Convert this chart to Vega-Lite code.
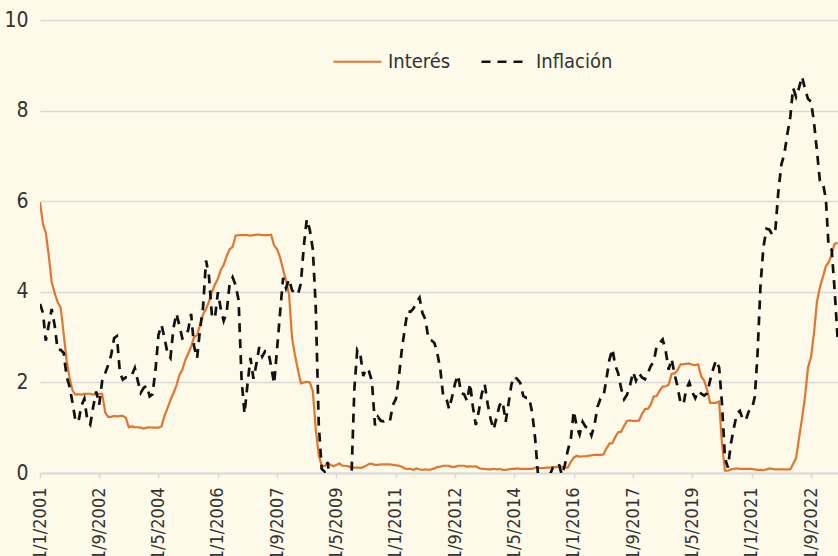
{
  "$schema": "https://vega.github.io/schema/vega-lite/v6.json",
  "width": 798,
  "height": 453,
  "autosize": {"type": "none"},
  "padding": {"left": 40, "top": 20, "right": 0, "bottom": 83},
  "background": "#FDFAE9",
  "config": {
    "view": {"stroke": null},
    "font": "DejaVu Sans Condensed, Liberation Sans Narrow, sans-serif",
    "legend": {
      "orient": "none",
      "legendX": 292,
      "legendY": 16,
      "direction": "horizontal",
      "title": null,
      "symbolType": "stroke",
      "symbolSize": 2304,
      "symbolStrokeWidth": 2.5,
      "labelFontSize": 20,
      "labelColor": "#333333",
      "labelOffset": 5,
      "columnPadding": 25,
      "labelFont": "DejaVu Sans Condensed, Liberation Sans Narrow, sans-serif"
    }
  },
  "data": {
    "values": [
      {"fecha":"2001-01-01","Interés":5.98,"Inflación":3.73},
      {"fecha":"2001-02-01","Interés":5.49,"Inflación":3.53},
      {"fecha":"2001-03-01","Interés":5.31,"Inflación":2.92},
      {"fecha":"2001-04-01","Interés":4.80,"Inflación":3.27},
      {"fecha":"2001-05-01","Interés":4.21,"Inflación":3.62},
      {"fecha":"2001-06-01","Interés":3.97,"Inflación":3.25},
      {"fecha":"2001-07-01","Interés":3.77,"Inflación":2.72},
      {"fecha":"2001-08-01","Interés":3.65,"Inflación":2.72},
      {"fecha":"2001-09-01","Interés":3.07,"Inflación":2.65},
      {"fecha":"2001-10-01","Interés":2.49,"Inflación":2.13},
      {"fecha":"2001-11-01","Interés":2.09,"Inflación":1.90},
      {"fecha":"2001-12-01","Interés":1.82,"Inflación":1.55},
      {"fecha":"2002-01-01","Interés":1.73,"Inflación":1.14},
      {"fecha":"2002-02-01","Interés":1.74,"Inflación":1.14},
      {"fecha":"2002-03-01","Interés":1.73,"Inflación":1.48},
      {"fecha":"2002-04-01","Interés":1.75,"Inflación":1.64},
      {"fecha":"2002-05-01","Interés":1.75,"Inflación":1.18},
      {"fecha":"2002-06-01","Interés":1.75,"Inflación":1.07},
      {"fecha":"2002-07-01","Interés":1.73,"Inflación":1.46},
      {"fecha":"2002-08-01","Interés":1.74,"Inflación":1.80},
      {"fecha":"2002-09-01","Interés":1.75,"Inflación":1.51},
      {"fecha":"2002-10-01","Interés":1.75,"Inflación":2.03},
      {"fecha":"2002-11-01","Interés":1.34,"Inflación":2.20},
      {"fecha":"2002-12-01","Interés":1.24,"Inflación":2.38},
      {"fecha":"2003-01-01","Interés":1.24,"Inflación":2.60},
      {"fecha":"2003-02-01","Interés":1.26,"Inflación":2.98},
      {"fecha":"2003-03-01","Interés":1.25,"Inflación":3.02},
      {"fecha":"2003-04-01","Interés":1.26,"Inflación":2.22},
      {"fecha":"2003-05-01","Interés":1.26,"Inflación":2.06},
      {"fecha":"2003-06-01","Interés":1.22,"Inflación":2.11},
      {"fecha":"2003-07-01","Interés":1.01,"Inflación":2.11},
      {"fecha":"2003-08-01","Interés":1.03,"Inflación":2.16},
      {"fecha":"2003-09-01","Interés":1.01,"Inflación":2.32},
      {"fecha":"2003-10-01","Interés":1.01,"Inflación":2.04},
      {"fecha":"2003-11-01","Interés":1.00,"Inflación":1.77},
      {"fecha":"2003-12-01","Interés":0.98,"Inflación":1.88},
      {"fecha":"2004-01-01","Interés":1.00,"Inflación":1.93},
      {"fecha":"2004-02-01","Interés":1.01,"Inflación":1.69},
      {"fecha":"2004-03-01","Interés":1.00,"Inflación":1.74},
      {"fecha":"2004-04-01","Interés":1.00,"Inflación":2.29},
      {"fecha":"2004-05-01","Interés":1.00,"Inflación":3.05},
      {"fecha":"2004-06-01","Interés":1.03,"Inflación":3.27},
      {"fecha":"2004-07-01","Interés":1.26,"Inflación":2.99},
      {"fecha":"2004-08-01","Interés":1.43,"Inflación":2.65},
      {"fecha":"2004-09-01","Interés":1.61,"Inflación":2.54},
      {"fecha":"2004-10-01","Interés":1.76,"Inflación":3.19},
      {"fecha":"2004-11-01","Interés":1.93,"Inflación":3.52},
      {"fecha":"2004-12-01","Interés":2.16,"Inflación":3.26},
      {"fecha":"2005-01-01","Interés":2.28,"Inflación":2.97},
      {"fecha":"2005-02-01","Interés":2.50,"Inflación":3.01},
      {"fecha":"2005-03-01","Interés":2.63,"Inflación":3.15},
      {"fecha":"2005-04-01","Interés":2.79,"Inflación":3.51},
      {"fecha":"2005-05-01","Interés":3.00,"Inflación":2.80},
      {"fecha":"2005-06-01","Interés":3.04,"Inflación":2.53},
      {"fecha":"2005-07-01","Interés":3.26,"Inflación":3.17},
      {"fecha":"2005-08-01","Interés":3.50,"Inflación":3.64},
      {"fecha":"2005-09-01","Interés":3.62,"Inflación":4.69},
      {"fecha":"2005-10-01","Interés":3.78,"Inflación":4.35},
      {"fecha":"2005-11-01","Interés":4.00,"Inflación":3.46},
      {"fecha":"2005-12-01","Interés":4.16,"Inflación":3.42},
      {"fecha":"2006-01-01","Interés":4.29,"Inflación":3.99},
      {"fecha":"2006-02-01","Interés":4.49,"Inflación":3.60},
      {"fecha":"2006-03-01","Interés":4.59,"Inflación":3.36},
      {"fecha":"2006-04-01","Interés":4.79,"Inflación":3.55},
      {"fecha":"2006-05-01","Interés":4.94,"Inflación":4.17},
      {"fecha":"2006-06-01","Interés":4.99,"Inflación":4.32},
      {"fecha":"2006-07-01","Interés":5.24,"Inflación":4.15},
      {"fecha":"2006-08-01","Interés":5.25,"Inflación":3.82},
      {"fecha":"2006-09-01","Interés":5.25,"Inflación":2.06},
      {"fecha":"2006-10-01","Interés":5.25,"Inflación":1.31},
      {"fecha":"2006-11-01","Interés":5.25,"Inflación":1.97},
      {"fecha":"2006-12-01","Interés":5.24,"Inflación":2.54},
      {"fecha":"2007-01-01","Interés":5.25,"Inflación":2.08},
      {"fecha":"2007-02-01","Interés":5.26,"Inflación":2.42},
      {"fecha":"2007-03-01","Interés":5.26,"Inflación":2.78},
      {"fecha":"2007-04-01","Interés":5.25,"Inflación":2.57},
      {"fecha":"2007-05-01","Interés":5.25,"Inflación":2.69},
      {"fecha":"2007-06-01","Interés":5.25,"Inflación":2.69},
      {"fecha":"2007-07-01","Interés":5.26,"Inflación":2.36},
      {"fecha":"2007-08-01","Interés":5.02,"Inflación":1.97},
      {"fecha":"2007-09-01","Interés":4.94,"Inflación":2.76},
      {"fecha":"2007-10-01","Interés":4.76,"Inflación":3.54},
      {"fecha":"2007-11-01","Interés":4.49,"Inflación":4.31},
      {"fecha":"2007-12-01","Interés":4.24,"Inflación":4.08},
      {"fecha":"2008-01-01","Interés":3.94,"Inflación":4.28},
      {"fecha":"2008-02-01","Interés":2.98,"Inflación":4.03},
      {"fecha":"2008-03-01","Interés":2.61,"Inflación":3.98},
      {"fecha":"2008-04-01","Interés":2.28,"Inflación":3.94},
      {"fecha":"2008-05-01","Interés":1.98,"Inflación":4.18},
      {"fecha":"2008-06-01","Interés":2.00,"Inflación":5.02},
      {"fecha":"2008-07-01","Interés":2.01,"Inflación":5.60},
      {"fecha":"2008-08-01","Interés":2.00,"Inflación":5.37},
      {"fecha":"2008-09-01","Interés":1.81,"Inflación":4.94},
      {"fecha":"2008-10-01","Interés":0.97,"Inflación":3.66},
      {"fecha":"2008-11-01","Interés":0.39,"Inflación":1.07},
      {"fecha":"2008-12-01","Interés":0.16,"Inflación":0.09},
      {"fecha":"2009-01-01","Interés":0.15,"Inflación":0.03},
      {"fecha":"2009-02-01","Interés":0.22,"Inflación":0.24},
      {"fecha":"2009-03-01","Interés":0.18,"Inflación":-0.38},
      {"fecha":"2009-04-01","Interés":0.15,"Inflación":-0.74},
      {"fecha":"2009-05-01","Interés":0.18,"Inflación":-1.28},
      {"fecha":"2009-06-01","Interés":0.21,"Inflación":-1.43},
      {"fecha":"2009-07-01","Interés":0.16,"Inflación":-2.10},
      {"fecha":"2009-08-01","Interés":0.16,"Inflación":-1.48},
      {"fecha":"2009-09-01","Interés":0.15,"Inflación":-1.29},
      {"fecha":"2009-10-01","Interés":0.12,"Inflación":-0.18},
      {"fecha":"2009-11-01","Interés":0.12,"Inflación":1.84},
      {"fecha":"2009-12-01","Interés":0.12,"Inflación":2.72},
      {"fecha":"2010-01-01","Interés":0.11,"Inflación":2.63},
      {"fecha":"2010-02-01","Interés":0.13,"Inflación":2.14},
      {"fecha":"2010-03-01","Interés":0.16,"Inflación":2.31},
      {"fecha":"2010-04-01","Interés":0.20,"Inflación":2.24},
      {"fecha":"2010-05-01","Interés":0.20,"Inflación":2.02},
      {"fecha":"2010-06-01","Interés":0.18,"Inflación":1.05},
      {"fecha":"2010-07-01","Interés":0.18,"Inflación":1.24},
      {"fecha":"2010-08-01","Interés":0.19,"Inflación":1.15},
      {"fecha":"2010-09-01","Interés":0.19,"Inflación":1.14},
      {"fecha":"2010-10-01","Interés":0.19,"Inflación":1.17},
      {"fecha":"2010-11-01","Interés":0.19,"Inflación":1.14},
      {"fecha":"2010-12-01","Interés":0.18,"Inflación":1.50},
      {"fecha":"2011-01-01","Interés":0.17,"Inflación":1.63},
      {"fecha":"2011-02-01","Interés":0.16,"Inflación":2.11},
      {"fecha":"2011-03-01","Interés":0.14,"Inflación":2.68},
      {"fecha":"2011-04-01","Interés":0.10,"Inflación":3.16},
      {"fecha":"2011-05-01","Interés":0.09,"Inflación":3.57},
      {"fecha":"2011-06-01","Interés":0.09,"Inflación":3.56},
      {"fecha":"2011-07-01","Interés":0.07,"Inflación":3.63},
      {"fecha":"2011-08-01","Interés":0.10,"Inflación":3.77},
      {"fecha":"2011-09-01","Interés":0.08,"Inflación":3.87},
      {"fecha":"2011-10-01","Interés":0.07,"Inflación":3.53},
      {"fecha":"2011-11-01","Interés":0.08,"Inflación":3.39},
      {"fecha":"2011-12-01","Interés":0.07,"Inflación":2.96},
      {"fecha":"2012-01-01","Interés":0.08,"Inflación":2.93},
      {"fecha":"2012-02-01","Interés":0.10,"Inflación":2.87},
      {"fecha":"2012-03-01","Interés":0.13,"Inflación":2.65},
      {"fecha":"2012-04-01","Interés":0.14,"Inflación":2.30},
      {"fecha":"2012-05-01","Interés":0.16,"Inflación":1.70},
      {"fecha":"2012-06-01","Interés":0.16,"Inflación":1.66},
      {"fecha":"2012-07-01","Interés":0.16,"Inflación":1.41},
      {"fecha":"2012-08-01","Interés":0.13,"Inflación":1.69},
      {"fecha":"2012-09-01","Interés":0.14,"Inflación":1.99},
      {"fecha":"2012-10-01","Interés":0.16,"Inflación":2.16},
      {"fecha":"2012-11-01","Interés":0.16,"Inflación":1.76},
      {"fecha":"2012-12-01","Interés":0.16,"Inflación":1.74},
      {"fecha":"2013-01-01","Interés":0.14,"Inflación":1.59},
      {"fecha":"2013-02-01","Interés":0.15,"Inflación":1.98},
      {"fecha":"2013-03-01","Interés":0.14,"Inflación":1.47},
      {"fecha":"2013-04-01","Interés":0.15,"Inflación":1.06},
      {"fecha":"2013-05-01","Interés":0.11,"Inflación":1.36},
      {"fecha":"2013-06-01","Interés":0.09,"Inflación":1.75},
      {"fecha":"2013-07-01","Interés":0.09,"Inflación":1.96},
      {"fecha":"2013-08-01","Interés":0.08,"Inflación":1.52},
      {"fecha":"2013-09-01","Interés":0.08,"Inflación":1.18},
      {"fecha":"2013-10-01","Interés":0.09,"Inflación":0.96},
      {"fecha":"2013-11-01","Interés":0.08,"Inflación":1.24},
      {"fecha":"2013-12-01","Interés":0.09,"Inflación":1.50},
      {"fecha":"2014-01-01","Interés":0.07,"Inflación":1.58},
      {"fecha":"2014-02-01","Interés":0.07,"Inflación":1.13},
      {"fecha":"2014-03-01","Interés":0.08,"Inflación":1.51},
      {"fecha":"2014-04-01","Interés":0.09,"Inflación":1.95},
      {"fecha":"2014-05-01","Interés":0.09,"Inflación":2.13},
      {"fecha":"2014-06-01","Interés":0.10,"Inflación":2.07},
      {"fecha":"2014-07-01","Interés":0.09,"Inflación":1.99},
      {"fecha":"2014-08-01","Interés":0.09,"Inflación":1.70},
      {"fecha":"2014-09-01","Interés":0.09,"Inflación":1.66},
      {"fecha":"2014-10-01","Interés":0.09,"Inflación":1.66},
      {"fecha":"2014-11-01","Interés":0.09,"Inflación":1.32},
      {"fecha":"2014-12-01","Interés":0.12,"Inflación":0.76},
      {"fecha":"2015-01-01","Interés":0.11,"Inflación":-0.09},
      {"fecha":"2015-02-01","Interés":0.11,"Inflación":-0.03},
      {"fecha":"2015-03-01","Interés":0.11,"Inflación":-0.07},
      {"fecha":"2015-04-01","Interés":0.12,"Inflación":-0.20},
      {"fecha":"2015-05-01","Interés":0.12,"Inflación":-0.04},
      {"fecha":"2015-06-01","Interés":0.13,"Inflación":0.12},
      {"fecha":"2015-07-01","Interés":0.13,"Inflación":0.17},
      {"fecha":"2015-08-01","Interés":0.14,"Inflación":0.20},
      {"fecha":"2015-09-01","Interés":0.14,"Inflación":-0.04},
      {"fecha":"2015-10-01","Interés":0.12,"Inflación":0.17},
      {"fecha":"2015-11-01","Interés":0.12,"Inflación":0.50},
      {"fecha":"2015-12-01","Interés":0.24,"Inflación":0.73},
      {"fecha":"2016-01-01","Interés":0.34,"Inflación":1.37},
      {"fecha":"2016-02-01","Interés":0.38,"Inflación":1.02},
      {"fecha":"2016-03-01","Interés":0.36,"Inflación":0.85},
      {"fecha":"2016-04-01","Interés":0.37,"Inflación":1.13},
      {"fecha":"2016-05-01","Interés":0.37,"Inflación":1.02},
      {"fecha":"2016-06-01","Interés":0.38,"Inflación":1.01},
      {"fecha":"2016-07-01","Interés":0.39,"Inflación":0.83},
      {"fecha":"2016-08-01","Interés":0.40,"Inflación":1.06},
      {"fecha":"2016-09-01","Interés":0.40,"Inflación":1.46},
      {"fecha":"2016-10-01","Interés":0.40,"Inflación":1.64},
      {"fecha":"2016-11-01","Interés":0.41,"Inflación":1.69},
      {"fecha":"2016-12-01","Interés":0.54,"Inflación":2.07},
      {"fecha":"2017-01-01","Interés":0.65,"Inflación":2.50},
      {"fecha":"2017-02-01","Interés":0.66,"Inflación":2.74},
      {"fecha":"2017-03-01","Interés":0.79,"Inflación":2.38},
      {"fecha":"2017-04-01","Interés":0.90,"Inflación":2.20},
      {"fecha":"2017-05-01","Interés":0.91,"Inflación":1.87},
      {"fecha":"2017-06-01","Interés":1.04,"Inflación":1.63},
      {"fecha":"2017-07-01","Interés":1.15,"Inflación":1.73},
      {"fecha":"2017-08-01","Interés":1.16,"Inflación":1.94},
      {"fecha":"2017-09-01","Interés":1.15,"Inflación":2.23},
      {"fecha":"2017-10-01","Interés":1.15,"Inflación":2.04},
      {"fecha":"2017-11-01","Interés":1.16,"Inflación":2.20},
      {"fecha":"2017-12-01","Interés":1.30,"Inflación":2.11},
      {"fecha":"2018-01-01","Interés":1.41,"Inflación":2.07},
      {"fecha":"2018-02-01","Interés":1.42,"Inflación":2.21},
      {"fecha":"2018-03-01","Interés":1.51,"Inflación":2.36},
      {"fecha":"2018-04-01","Interés":1.69,"Inflación":2.46},
      {"fecha":"2018-05-01","Interés":1.70,"Inflación":2.80},
      {"fecha":"2018-06-01","Interés":1.82,"Inflación":2.87},
      {"fecha":"2018-07-01","Interés":1.91,"Inflación":2.95},
      {"fecha":"2018-08-01","Interés":1.91,"Inflación":2.70},
      {"fecha":"2018-09-01","Interés":1.95,"Inflación":2.28},
      {"fecha":"2018-10-01","Interés":2.19,"Inflación":2.52},
      {"fecha":"2018-11-01","Interés":2.20,"Inflación":2.18},
      {"fecha":"2018-12-01","Interés":2.27,"Inflación":1.91},
      {"fecha":"2019-01-01","Interés":2.40,"Inflación":1.55},
      {"fecha":"2019-02-01","Interés":2.40,"Inflación":1.52},
      {"fecha":"2019-03-01","Interés":2.41,"Inflación":1.86},
      {"fecha":"2019-04-01","Interés":2.42,"Inflación":2.00},
      {"fecha":"2019-05-01","Interés":2.39,"Inflación":1.79},
      {"fecha":"2019-06-01","Interés":2.38,"Inflación":1.65},
      {"fecha":"2019-07-01","Interés":2.40,"Inflación":1.81},
      {"fecha":"2019-08-01","Interés":2.13,"Inflación":1.75},
      {"fecha":"2019-09-01","Interés":2.04,"Inflación":1.71},
      {"fecha":"2019-10-01","Interés":1.83,"Inflación":1.76},
      {"fecha":"2019-11-01","Interés":1.55,"Inflación":2.05},
      {"fecha":"2019-12-01","Interés":1.55,"Inflación":2.29},
      {"fecha":"2020-01-01","Interés":1.55,"Inflación":2.49},
      {"fecha":"2020-02-01","Interés":1.58,"Inflación":2.33},
      {"fecha":"2020-03-01","Interés":0.65,"Inflación":1.54},
      {"fecha":"2020-04-01","Interés":0.05,"Inflación":0.33},
      {"fecha":"2020-05-01","Interés":0.05,"Inflación":0.12},
      {"fecha":"2020-06-01","Interés":0.08,"Inflación":0.65},
      {"fecha":"2020-07-01","Interés":0.09,"Inflación":0.99},
      {"fecha":"2020-08-01","Interés":0.10,"Inflación":1.31},
      {"fecha":"2020-09-01","Interés":0.09,"Inflación":1.37},
      {"fecha":"2020-10-01","Interés":0.09,"Inflación":1.18},
      {"fecha":"2020-11-01","Interés":0.09,"Inflación":1.17},
      {"fecha":"2020-12-01","Interés":0.09,"Inflación":1.36},
      {"fecha":"2021-01-01","Interés":0.09,"Inflación":1.40},
      {"fecha":"2021-02-01","Interés":0.08,"Inflación":1.68},
      {"fecha":"2021-03-01","Interés":0.07,"Inflación":2.62},
      {"fecha":"2021-04-01","Interés":0.07,"Inflación":4.16},
      {"fecha":"2021-05-01","Interés":0.06,"Inflación":4.99},
      {"fecha":"2021-06-01","Interés":0.08,"Inflación":5.39},
      {"fecha":"2021-07-01","Interés":0.10,"Inflación":5.37},
      {"fecha":"2021-08-01","Interés":0.09,"Inflación":5.25},
      {"fecha":"2021-09-01","Interés":0.08,"Inflación":5.39},
      {"fecha":"2021-10-01","Interés":0.08,"Inflación":6.22},
      {"fecha":"2021-11-01","Interés":0.08,"Inflación":6.81},
      {"fecha":"2021-12-01","Interés":0.08,"Inflación":7.04},
      {"fecha":"2022-01-01","Interés":0.08,"Inflación":7.48},
      {"fecha":"2022-02-01","Interés":0.08,"Inflación":7.87},
      {"fecha":"2022-03-01","Interés":0.20,"Inflación":8.50},
      {"fecha":"2022-04-01","Interés":0.33,"Inflación":8.30},
      {"fecha":"2022-05-01","Interés":0.77,"Inflación":8.50},
      {"fecha":"2022-06-01","Interés":1.21,"Inflación":8.75},
      {"fecha":"2022-07-01","Interés":1.68,"Inflación":8.48},
      {"fecha":"2022-08-01","Interés":2.33,"Inflación":8.26},
      {"fecha":"2022-09-01","Interés":2.56,"Inflación":8.20},
      {"fecha":"2022-10-01","Interés":3.08,"Inflación":7.75},
      {"fecha":"2022-11-01","Interés":3.78,"Inflación":7.11},
      {"fecha":"2022-12-01","Interés":4.10,"Inflación":6.45},
      {"fecha":"2023-01-01","Interés":4.33,"Inflación":6.41},
      {"fecha":"2023-02-01","Interés":4.57,"Inflación":6.04},
      {"fecha":"2023-03-01","Interés":4.65,"Inflación":4.98},
      {"fecha":"2023-04-01","Interés":4.83,"Inflación":4.93},
      {"fecha":"2023-05-01","Interés":5.06,"Inflación":4.05},
      {"fecha":"2023-06-01","Interés":5.08,"Inflación":2.97}
    ]
  },
  "transform": [{"fold": ["Interés", "Inflación"], "as": ["serie", "valor"]}],
  "mark": {"type": "line", "clip": true},
  "encoding": {
    "x": {
      "field": "fecha",
      "type": "temporal",
      "scale": {
        "type": "utc",
        "domain": [
          {"year": 2001, "month": 1, "date": 1, "utc": true},
          {"year": 2023, "month": 6, "date": 5, "utc": true}
        ]
      },
      "axis": {
        "title": null,
        "grid": false,
        "values": [
          {"year": 2001, "month": 1, "date": 1, "utc": true},
          {"year": 2002, "month": 9, "date": 1, "utc": true},
          {"year": 2004, "month": 5, "date": 1, "utc": true},
          {"year": 2006, "month": 1, "date": 1, "utc": true},
          {"year": 2007, "month": 9, "date": 1, "utc": true},
          {"year": 2009, "month": 5, "date": 1, "utc": true},
          {"year": 2011, "month": 1, "date": 1, "utc": true},
          {"year": 2012, "month": 9, "date": 1, "utc": true},
          {"year": 2014, "month": 5, "date": 1, "utc": true},
          {"year": 2016, "month": 1, "date": 1, "utc": true},
          {"year": 2017, "month": 9, "date": 1, "utc": true},
          {"year": 2019, "month": 5, "date": 1, "utc": true},
          {"year": 2021, "month": 1, "date": 1, "utc": true},
          {"year": 2022, "month": 9, "date": 1, "utc": true}
        ],
        "labelExpr": "'1/' + (utcmonth(datum.value) + 1) + '/' + utcyear(datum.value)",
        "labelAngle": -90,
        "labelFontSize": 18,
        "labelColor": "#333333",
        "labelPadding": 9,
        "labelOverlap": false,
        "labelFlush": false,
        "domainColor": "#D9D9D9",
        "domainWidth": 2,
        "tickColor": "#D9D9D9",
        "tickWidth": 1.5,
        "tickSize": 5
      }
    },
    "y": {
      "field": "valor",
      "type": "quantitative",
      "scale": {"domain": [0, 10], "nice": false, "zero": true},
      "axis": {
        "title": null,
        "values": [0, 2, 4, 6, 8, 10],
        "domain": false,
        "ticks": false,
        "grid": true,
        "gridColor": "#D9D9D9",
        "gridWidth": 1.5,
        "labelFontSize": 21,
        "labelColor": "#333333",
        "labelPadding": 12,
        "format": "d"
      }
    },
    "color": {
      "field": "serie",
      "type": "nominal",
      "scale": {"domain": ["Interés", "Inflación"], "range": ["#E2762F", "#111111"]},
      "legend": {"title": null}
    },
    "strokeDash": {
      "field": "serie",
      "type": "nominal",
      "scale": {"domain": ["Interés", "Inflación"], "range": [[1, 0], [9, 7]]},
      "legend": {"title": null}
    },
    "strokeWidth": {
      "field": "serie",
      "type": "nominal",
      "scale": {"domain": ["Interés", "Inflación"], "range": [2.2, 2.7]},
      "legend": null
    }
  }
}
